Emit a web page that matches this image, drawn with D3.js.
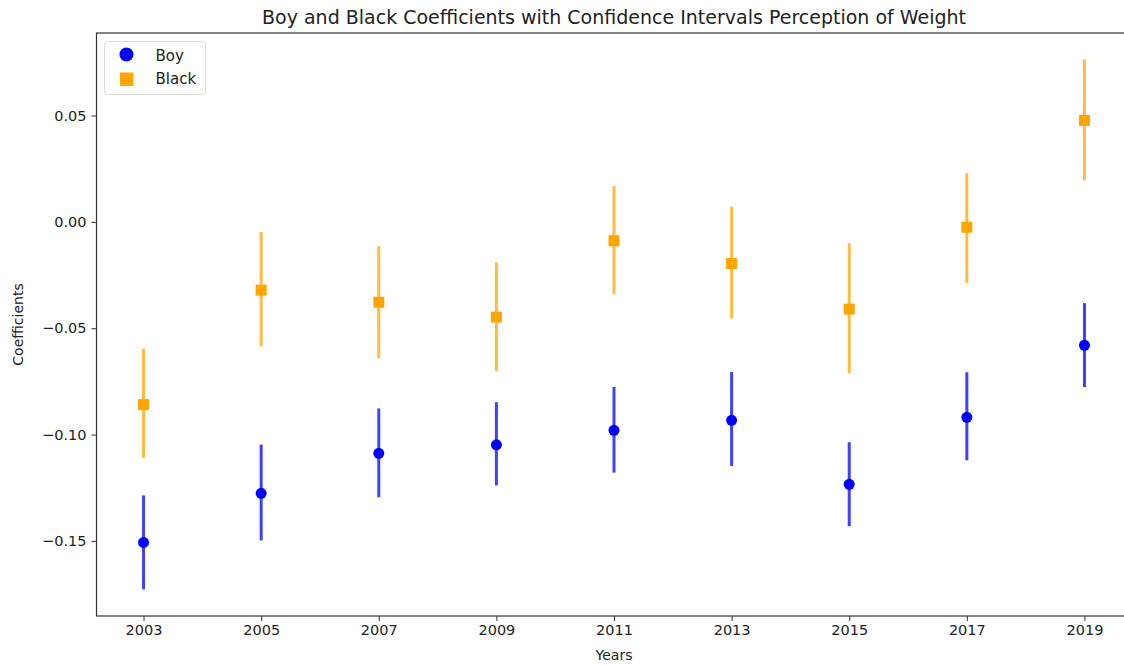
<!DOCTYPE html>
<html lang="en">
<head>
<meta charset="utf-8">
<title>Boy and Black Coefficients</title>
<script src="https://d3js.org/d3.v7.min.js"></script>
<style>
	body { margin: 0; background: #fff; }
	text { font-family: "DejaVu Sans", sans-serif; fill: #222; }
</style>
</head>
<body>
<div id="chart"></div>
<script>
	// data
	var years = [2003, 2005, 2007, 2009, 2011, 2013, 2015, 2017, 2019];
	var boyCoef  = [-0.1507, -0.1276, -0.1088, -0.1048, -0.0980, -0.0933, -0.1234, -0.0919, -0.0580];
	var boyLow   = [-0.1728, -0.1498, -0.1295, -0.1239, -0.1179, -0.1148, -0.1431, -0.1121, -0.0777];
	var boyHigh  = [-0.1286, -0.1047, -0.0877, -0.0848, -0.0776, -0.0706, -0.1036, -0.0707, -0.0382];
	var blackCoef = [-0.0859, -0.0321, -0.0378, -0.0448, -0.0089, -0.0196, -0.0410, -0.0025, 0.0477];
	var blackLow  = [-0.1110, -0.0585, -0.0641, -0.0702, -0.0341, -0.0454, -0.0712, -0.0288, 0.0195];
	var blackHigh = [-0.0596, -0.0048, -0.0114, -0.0190, 0.0168, 0.0071, -0.0100, 0.0229, 0.0764];
	var yTicks = [-0.15, -0.10, -0.05, 0.00, 0.05];

	var width = 1124;
	var height = 665;
	// plot box (right edge falls just outside the picture)
	var pLeft = 96.5, pRight = 1131.5, pTop = 33, pBottom = 616;

	var svg = d3.select("#chart").append("svg")
		.attr("width", width)
		.attr("height", height);

	var x = d3.scaleLinear().domain([2002.2, 2019.8]).range([pLeft, pRight]);
	var y = d3.scaleLinear().domain([-0.1853, 0.0888]).range([pBottom, pTop]);

	// axes
	var xAxis = svg.append("g")
		.attr("transform", "translate(0," + pBottom + ")")
		.call(d3.axisBottom(x).tickValues(years).tickFormat(d3.format("d")).tickSize(5).tickPadding(4));
	var yAxis = svg.append("g")
		.attr("transform", "translate(" + pLeft + ",0)")
		.call(d3.axisLeft(y).tickValues(yTicks).tickFormat(function(d) {
			return d3.format(".2f")(d).replace("-", "\u2212");
		}).tickSize(5).tickPadding(5));
	[xAxis, yAxis].forEach(function(a) {
		a.select(".domain").remove();
		a.selectAll(".tick line").attr("stroke", "#333").attr("stroke-width", 1);
		a.selectAll(".tick text").style("font-size", "14.5px").attr("fill", "#222");
	});

	// frame
	svg.append("rect")
		.attr("x", pLeft).attr("y", pTop)
		.attr("width", pRight - pLeft).attr("height", pBottom - pTop)
		.attr("fill", "none").attr("stroke", "#333").attr("stroke-width", 1.2);

	function drawSeries(coef, low, high, color, shape) {
		var g = svg.append("g");
		// error bars
		g.selectAll("line.err").data(years).enter().append("line")
			.attr("class", "err")
			.attr("x1", function(d) { return x(d); })
			.attr("x2", function(d) { return x(d); })
			.attr("y1", function(d, i) { return y(low[i]); })
			.attr("y2", function(d, i) { return y(high[i]); })
			.attr("stroke", color).attr("stroke-opacity", 0.75).attr("stroke-width", 3);
		if (shape == "circle") {
			g.selectAll("circle").data(years).enter().append("circle")
				.attr("cx", function(d) { return x(d); })
				.attr("cy", function(d, i) { return y(coef[i]); })
				.attr("r", 5.5)
				.attr("fill", color);
		} else {
			g.selectAll("rect").data(years).enter().append("rect")
				.attr("x", function(d) { return x(d) - 5.5; })
				.attr("y", function(d, i) { return y(coef[i]) - 5.5; })
				.attr("width", 11).attr("height", 11)
				.attr("fill", color);
		}
	}
	drawSeries(boyCoef, boyLow, boyHigh, "#0000ff", "circle");
	drawSeries(blackCoef, blackLow, blackHigh, "#ffa500", "square");

	// title and labels
	svg.append("text")
		.attr("x", (pLeft + pRight) / 2).attr("y", 24)
		.attr("text-anchor", "middle")
		.style("font-size", "19px")
		.text("Boy and Black Coefficients with Confidence Intervals Perception of Weight");
	svg.append("text")
		.attr("x", (pLeft + pRight) / 2).attr("y", 660)
		.attr("text-anchor", "middle")
		.style("font-size", "14px")
		.text("Years");
	svg.append("text")
		.attr("transform", "translate(23," + ((pTop + pBottom) / 2) + ") rotate(-90)")
		.attr("text-anchor", "middle")
		.style("font-size", "14px")
		.text("Coefficients");

	// legend
	var legend = svg.append("g").attr("transform", "translate(104.5,41.5)");
	legend.append("rect")
		.attr("width", 101).attr("height", 53).attr("rx", 3)
		.attr("fill", "#fff").attr("stroke", "#ddd");
	legend.append("circle").attr("cx", 22).attr("cy", 13).attr("r", 7).attr("fill", "#0000ff");
	legend.append("rect").attr("x", 15.5).attr("y", 31).attr("width", 13.5).attr("height", 13.5).attr("fill", "#ffa500");
	legend.append("text").attr("x", 51).attr("y", 19.5).style("font-size", "15px").text("Boy");
	legend.append("text").attr("x", 51).attr("y", 42.5).style("font-size", "15px").text("Black");
</script>
</body>
</html>
